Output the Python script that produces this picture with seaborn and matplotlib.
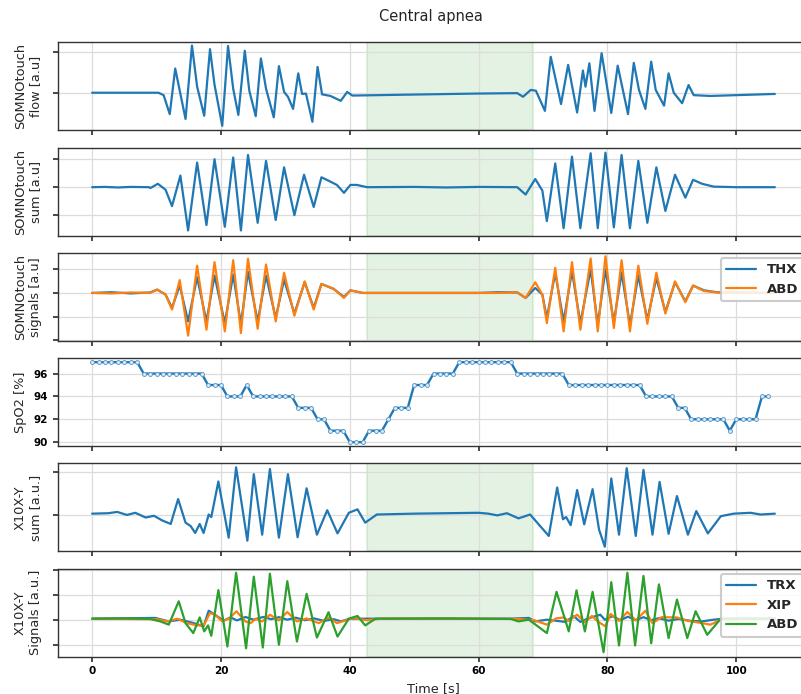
import numpy as np
import pandas as pd
import matplotlib
matplotlib.use("Agg")
import matplotlib.pyplot as plt
import seaborn as sns

# ---------------- data ----------------
apnea_start, apnea_end = 42.7, 68.4

flow_t = [0, 10.3, 11.1, 12.05, 12.9, 14.5, 15.5, 16.3, 17.4, 18.3, 19.0, 20.2, 21.1, 21.9, 22.7,
          23.7, 24.4, 25.4, 26.2, 27.0, 28.2, 29.0, 29.8, 30.4, 31.2, 32.0, 32.6, 33.2, 34.2, 35.0,
          35.7, 37.0, 38.6, 39.6, 40.4, 48, 60, 66.0, 66.9, 68.1, 68.9, 70.3, 71.2, 72.8, 73.9,
          75.3, 76.2, 76.6, 77.2, 78.0, 79.1, 80.6, 81.6, 83.2, 84.1, 84.9, 85.9, 86.8, 87.5,
          88.8, 89.5, 90.3, 91.6, 92.6, 93.4, 96, 100, 106]
flow_v = [0, 0, -0.06, -0.53, 0.60, -0.65, 1.17, 0.15, -0.57, 1.08, 0.20, -0.82, 1.16, 0.10, -0.55,
          1.04, 0.05, -0.58, 0.85, 0.10, -0.61, 0.66, 0.02, -0.10, -0.40, 0.48, -0.03, -0.02, -0.72, 0.64,
          -0.04, -0.08, -0.20, 0.02, -0.07, -0.05, -0.02, -0.01, -0.10, 0.07, 0.05, -0.45, 0.89, -0.28, 0.69,
          -0.49, 0.55, 0.15, 0.73, -0.45, 0.98, -0.50, 0.67, -0.53, 0.74, 0.07, -0.40, 0.77, 0.07,
          -0.32, 0.48, 0.0, -0.26, 0.19, -0.06, -0.08, -0.06, -0.03]

sum_t = [0, 2, 4, 6, 8.8, 9.05, 10.2, 11.4, 12.4, 13.7, 14.9, 16.3, 17.75, 19.0, 20.6, 21.9, 23.1,
         24.2, 25.7, 27.0, 28.5, 29.8, 31.4, 32.9, 34.4, 35.6, 36.7, 38.0, 39.1, 40.1, 41.1, 42.7,
         50, 55, 60, 66, 67.3, 68.8, 69.9, 70.6, 71.9, 73.2, 74.5, 75.8, 77.4, 78.5, 79.7, 81.0,
         82.2, 83.5, 84.8, 86.2, 87.6, 89.0, 90.5, 92.1, 93.3, 94.7, 96.5, 100, 106]
sum_v = [0, 0.01, -0.01, 0.01, 0, -0.03, 0.12, -0.09, -0.67, 0.41, -1.53, 0.87, -1.34, 0.99, -1.40, 1.05, -1.53,
         1.14, -1.26, 0.93, -1.16, 0.70, -0.99, 0.44, -0.70, 0.35, 0.23, 0.08, -0.20, 0.08, 0.08, 0.0,
         0.01, -0.01, 0.01, 0, -0.26, 0.29, -0.12, -1.20, 0.84, -1.45, 1.08, -1.45, 1.20, -1.45, 1.22, -1.42,
         1.14, -1.45, 0.93, -1.26, 0.70, -0.84, 0.44, -0.37, 0.26, 0.12, 0.02, 0.0, 0.0]

sig_t = [0, 3, 6, 9, 10.1, 11.4, 12.4, 13.6, 14.9, 16.3, 17.75, 19.0, 20.6, 21.9, 23.1, 24.2,
         25.7, 27.0, 28.5, 29.8, 31.4, 33.0, 34.4, 35.6, 37.5, 39.1, 40.1, 42, 50, 60, 63, 66,
         67.3, 68.8, 69.9, 70.6, 71.9, 73.2, 74.5, 75.8, 77.4, 78.5, 79.7, 81.0, 82.2, 83.5, 84.8,
         86.2, 87.6, 89.0, 90.5, 92.1, 93.3, 95, 97, 106]
thx_v = [0.0, 0.03, -0.02, 0.02, 0.14, -0.07, -0.63, 0.32, -1.20, 0.66, -1.20, 0.73, -1.27, 0.77, -1.31, 0.89,
         -1.20, 0.73, -1.06, 0.56, -0.87, 0.45, -0.63, 0.38, 0.17, -0.17, 0.11, 0.0, 0.0, 0.0, 0.03, 0.02,
         -0.21, 0.21, -0.07, -1.06, 0.85, -1.20, 0.92, -1.27, 0.99, -1.34, 0.99, -1.24, 0.85, -1.34, 0.73,
         -1.13, 0.63, -0.80, 0.45, -0.35, 0.31, 0.11, 0.03, 0.0]
abd_v = [0.0, -0.02, 0.02, 0.0, 0.14, -0.07, -0.70, 0.54, -1.80, 1.15, -1.55, 1.30, -1.62, 1.38, -1.69, 1.44,
         -1.51, 1.20, -1.20, 0.85, -0.96, 0.49, -0.70, 0.38, 0.17, -0.21, 0.11, 0.0, 0.0, 0.0, 0.0, 0.03,
         -0.21, 0.45, -0.07, -1.27, 1.06, -1.62, 1.30, -1.55, 1.45, -1.62, 1.55, -1.48, 1.38, -1.62, 1.15,
         -1.30, 0.85, -0.87, 0.49, -0.39, 0.31, 0.08, 0.02, 0.0]

spo2_v = ([97] * 8 + [96] * 10 + [95] * 3 + [94] * 3 + [95] + [94] * 7 + [93] * 3 + [92] * 2 +
          [91] * 3 + [90] * 3 + [91] * 3 + [92] + [93] * 3 + [95] * 3 + [96] * 4 + [97] * 9 +
          [96] * 8 + [95] * 12 + [94] * 5 + [93] * 2 + [92] * 6 + [91] + [92] * 4 + [94] * 2)
spo2_t = list(range(len(spo2_v)))

xsum_t = [0, 2.5, 3.9, 5.4, 6.7, 8.3, 9.6, 10.9, 12.2, 13.35, 14.5, 15.3, 16.0, 16.7, 17.3,
          18.1, 18.5, 19.6, 21.2, 22.35, 24.1, 25.1, 26.4, 27.6, 29.0, 30.4, 31.9, 33.3, 34.9, 36.5,
          38.1, 39.85, 41.2, 42.4, 44.2, 50, 55, 60, 61.5, 62.9, 64.4, 66.2, 68.0, 70.9, 72.2,
          73.1, 73.6, 74.3, 75.3, 76.4, 77.7, 78.7, 79.6, 80.6, 81.8, 83.0, 84.4, 85.6, 87.0, 88.1,
          89.5, 90.8, 92.5, 93.8, 95.6, 97.6, 99.6, 102.2, 103.8, 106]
xsum_v = [0.04, 0.05, 0.08, 0.01, 0.06, -0.05, -0.01, -0.12, -0.20, 0.38, -0.17, -0.25, -0.41, -0.20, -0.41,
          0.02, -0.04, 0.79, -0.52, 1.12, -0.59, 0.96, -0.45, 1.08, -0.52, 0.96, -0.51, 0.63, -0.45, 0.12,
          -0.42, 0.06, 0.14, -0.17, 0.02, 0.04, 0.05, 0.06, 0.04, 0.0, 0.05, -0.07, 0.02, -0.48, 0.65,
          -0.09, -0.04, -0.23, 0.59, -0.21, 0.61, -0.33, -0.73, 0.86, -0.45, 1.10, -0.48, 1.06, -0.45, 0.78,
          -0.43, 0.45, -0.45, 0.10, -0.42, -0.02, 0.04, 0.06, 0.02, 0.04]

trx_t = [0, 9.8, 11.9, 13.7, 15.8, 17.3, 18.1, 19.4, 20.4, 21.5, 22.5, 23.8, 25.0, 26.6, 27.8,
         29.0, 30.3, 31.6, 33.0, 34.5, 36.0, 37.5, 38.6, 40, 45, 55, 65, 67.8, 68.8, 70.6,
         72.0, 73.4, 74.8, 75.8, 77.0, 78.9, 79.6, 80.8, 82.0, 83.2, 84.4, 85.6, 86.8, 88.0, 89.5,
         91.0, 93.0, 94.7, 96.5, 98, 106]
trx_v = [0.04, 0.07, -0.07, 0.0, -0.14, -0.27, 0.36, 0.14, -0.04, 0.09, -0.03, 0.11, 0.0, 0.11, 0.02,
         0.10, 0.0, 0.08, -0.02, 0.05, -0.05, 0.02, -0.07, 0.04, 0.04, 0.04, 0.04, 0.07, -0.07, 0.0,
         -0.04, -0.09, 0.14, -0.09, 0.05, 0.20, 0.0, 0.14, -0.02, 0.12, -0.02, 0.10, -0.02, 0.06, -0.04,
         0.03, -0.05, -0.07, 0.0, 0.04, 0.04]

xip_t = [0, 10, 11.8, 13.2, 14.7, 16.3, 17.3, 18.3, 19.1, 20.2, 21.3, 22.4, 23.8, 24.6, 25.4,
         26.4, 27.6, 29.0, 30.3, 31.8, 33.3, 35.2, 36.7, 38.0, 40.6, 42.5, 45, 55, 66, 68.6,
         70.6, 72.0, 73.2, 74.0, 75.3, 76.5, 77.6, 78.5, 79.7, 80.5, 81.8, 83.1, 84.4, 85.9, 87.0,
         88.4, 90.8, 92.5, 94.7, 96.0, 97.6, 106]
xip_v = [0.04, 0.02, -0.07, 0.04, -0.14, -0.23, -0.24, 0.27, 0.20, -0.07, 0.05, 0.34, -0.07, -0.14, 0.03,
         -0.07, 0.20, -0.03, 0.31, -0.07, 0.05, -0.14, 0.09, -0.14, 0.07, -0.02, 0.04, 0.04, 0.03, -0.02,
         -0.20, 0.05, 0.09, -0.05, 0.20, -0.10, 0.15, -0.07, -0.27, 0.23, -0.05, 0.31, -0.03, 0.36, -0.14,
         0.10, 0.09, -0.05, -0.14, -0.20, 0.0, 0.04]

xabd_t = [0, 5, 9, 10.6, 11.9, 13.45, 14.5, 15.7, 16.7, 17.4, 18.0, 18.5, 19.6, 21.0, 22.35,
          23.9, 25.1, 26.5, 27.6, 29.0, 30.3, 31.8, 33.3, 34.9, 36.7, 38.1, 39.85, 41.2, 42.4, 44,
          55, 65, 66.2, 67.8, 70.6, 72.1, 74.0, 75.2, 76.5, 77.7, 79.4, 80.6, 81.8, 83.1, 84.3,
          85.6, 86.8, 88.0, 89.5, 90.8, 92.4, 93.7, 95.5, 97.6, 106]
xabd_v = [0.04, 0.05, 0.03, -0.07, -0.20, 0.74, -0.14, -0.54, 0.09, -0.47, -0.23, -0.65, 1.19, -1.08, 1.89,
          -1.15, 1.73, -1.12, 1.85, -1.01, 1.55, -0.88, 1.04, -0.72, 0.30, -0.68, 0.04, 0.15, -0.23, 0.04,
          0.05, 0.03, -0.07, 0.0, -0.54, 1.12, -0.47, 1.18, -0.47, 1.12, -1.31, 1.51, -1.04, 1.89, -1.04,
          1.76, -0.95, 1.42, -0.74, 0.81, -0.74, 0.34, -0.61, 0.04, 0.04]

ylabels = ["SOMNOtouch\nflow [a.u]", "SOMNOtouch\nsum [a.u]", "SOMNOtouch\nsignals [a.u]",
           "SpO2 [%]", "X10X-Y\nsum [a.u.]", "X10X-Y\nSignals [a.u.]"]
xticks = [0, 20, 40, 60, 80, 100]

# ---------------- style ----------------
sns.set_theme(style="ticks")
plt.rcParams.update({
    "font.family": ["DejaVu Sans"],
    "axes.edgecolor": "#333333",
    "axes.linewidth": 1.0,
    "xtick.color": "#333333",
    "ytick.color": "#333333",
    "xtick.labelcolor": "black",
    "ytick.labelcolor": "black",
    "xtick.major.size": 3.5,
    "ytick.major.size": 3.5,
})

BLUE, ORANGE, GREEN = "#1f77b4", "#ff7f0e", "#2ca02c"

fig, axes = plt.subplots(6, 1, figsize=(8.01, 6.94), dpi=100, sharex=True)
fig.subplots_adjust(left=58 / 801, right=809 / 801, top=1 - 42.3 / 694,
                    bottom=1 - 656.7 / 694, hspace=0.197)

lw = 1.6
sns.lineplot(x=flow_t, y=flow_v, ax=axes[0], color=BLUE, lw=lw)
sns.lineplot(x=sum_t, y=sum_v, ax=axes[1], color=BLUE, lw=lw)
sns.lineplot(x=sig_t, y=thx_v, ax=axes[2], color=BLUE, lw=lw, label="THX", legend=False)
sns.lineplot(x=sig_t, y=abd_v, ax=axes[2], color=ORANGE, lw=lw, label="ABD", legend=False)
sns.lineplot(x=spo2_t, y=spo2_v, ax=axes[3], color=BLUE, lw=1.7, marker="o", markersize=2.8,
             markerfacecolor="#e3eef7", markeredgecolor="#5a9ccf", markeredgewidth=0.7)
sns.lineplot(x=xsum_t, y=xsum_v, ax=axes[4], color=BLUE, lw=lw)
sns.lineplot(x=trx_t, y=trx_v, ax=axes[5], color=BLUE, lw=lw, label="TRX", legend=False)
sns.lineplot(x=xip_t, y=xip_v, ax=axes[5], color=ORANGE, lw=lw, label="XIP", legend=False)
sns.lineplot(x=xabd_t, y=xabd_v, ax=axes[5], color=GREEN, lw=lw, label="ABD", legend=False)

ylims = [(-0.93, 1.25), (-1.71, 1.40), (-2.02, 1.69), None, (-0.84, 1.21), (-1.49, 2.05)]
yticks = [[-1, 0, 1], [-1, 0, 1], [-2, -1, 0, 1], [90, 92, 94, 96], [-1, 0, 1], [-1, 0, 1, 2]]

for i, ax in enumerate(axes):
    ax.grid(True, color="#dcdcdc", lw=0.9)
    ax.set_axisbelow(True)
    for s in ax.spines.values():
        s.set_visible(True)
    ax.set_yticks(yticks[i])
    if ylims[i] is not None:
        ax.set_ylim(*ylims[i])
        ax.set_yticklabels([])
        ax.axvspan(apnea_start, apnea_end, color=GREEN, alpha=0.13, lw=1.5, zorder=0)
        ax.yaxis.set_label_coords(-0.0214, 0.5)
    else:
        ax.set_ylim(89.65, 97.35)
        for lab in ax.get_yticklabels():
            lab.set_fontweight("bold")
            lab.set_fontsize(7.5)
        ax.yaxis.set_label_coords(-0.0414, 0.5)
    ax.set_ylabel(ylabels[i], fontsize=9.3, linespacing=1.2)

axes[-1].set_xlim(-5.3, 111.3)
axes[-1].set_xticks(xticks)
for lab in axes[-1].get_xticklabels():
    lab.set_fontweight("bold")
    lab.set_fontsize(7.5)
axes[-1].set_xlabel("Time [s]", fontsize=9.3, labelpad=4)

for ax in (axes[2], axes[5]):
    leg = ax.legend(loc="upper right", prop={"weight": "bold", "size": 9.5},
                    handlelength=2.3, framealpha=0.85, edgecolor="#c4c4c4",
                    borderaxespad=0.4)
    leg.get_frame().set_linewidth(1.5)

fig.suptitle("Central apnea", x=431 / 801, y=1 - 17 / 694, va="center", fontsize=10.5)

fig.savefig("out.png", dpi=100)
